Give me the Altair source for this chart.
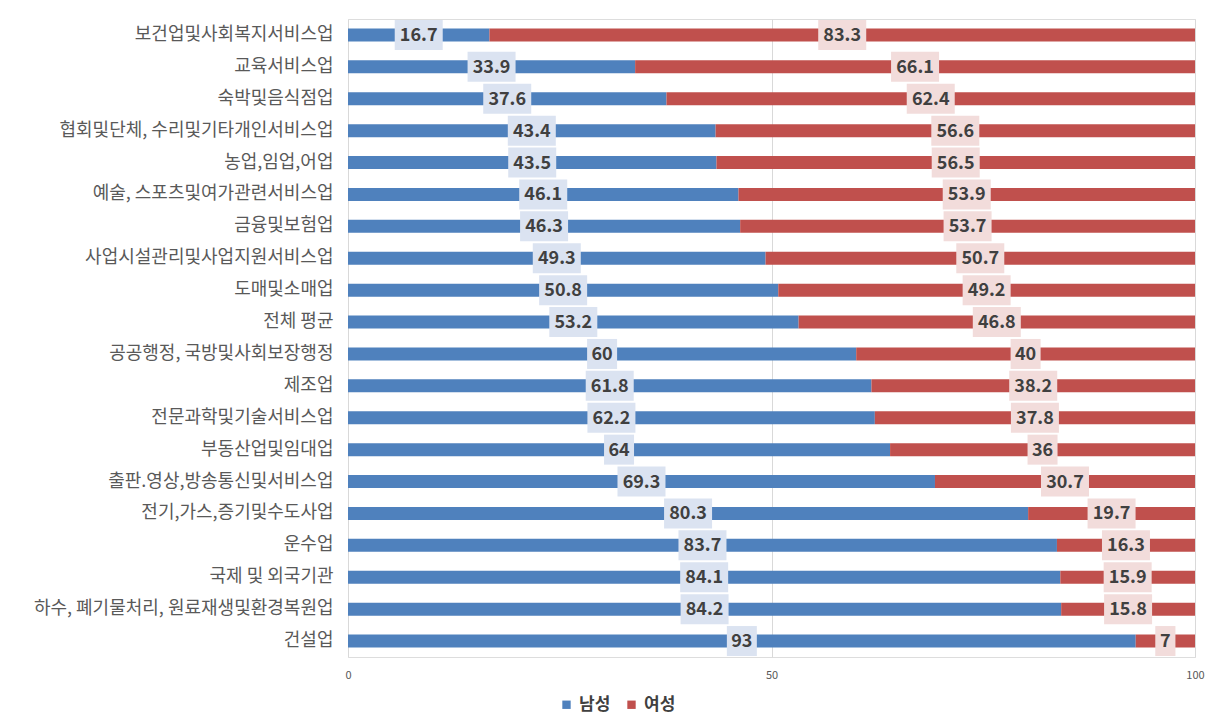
import altair as alt
import pandas as pd

categories = [
    "보건업및사회복지서비스업",
    "교육서비스업",
    "숙박및음식점업",
    "협회및단체, 수리및기타개인서비스업",
    "농업,임업,어업",
    "예술, 스포츠및여가관련서비스업",
    "금융및보험업",
    "사업시설관리및사업지원서비스업",
    "도매및소매업",
    "전체 평균",
    "공공행정, 국방및사회보장행정",
    "제조업",
    "전문과학및기술서비스업",
    "부동산업및임대업",
    "출판.영상,방송통신및서비스업",
    "전기,가스,증기및수도사업",
    "운수업",
    "국제 및 외국기관",
    "하수, 폐기물처리, 원료재생및환경복원업",
    "건설업",
]
male = [16.7, 33.9, 37.6, 43.4, 43.5, 46.1, 46.3, 49.3, 50.8, 53.2,
        60, 61.8, 62.2, 64, 69.3, 80.3, 83.7, 84.1, 84.2, 93]
female = [83.3, 66.1, 62.4, 56.6, 56.5, 53.9, 53.7, 50.7, 49.2, 46.8,
          40, 38.2, 37.8, 36, 30.7, 19.7, 16.3, 15.9, 15.8, 7]
series = ["남성", "여성"]
colors = ["#4f81bd", "#c0504d"]
box_colors = ["#dbe3f1", "#f2dcdb"]

rows = []
for i, c in enumerate(categories):
    m, f = male[i], female[i]
    for k, (g, v, start) in enumerate([(series[0], m, 0.0), (series[1], f, m)]):
        lab = f"{v:g}"
        rows.append({
            "category": c, "gender": g, "value": v, "order": k,
            "start": start, "end": start + v, "mid": start + v / 2,
            "label": lab, "len": str(len(lab)),
        })
df = pd.DataFrame(rows)

font = "Noto Sans CJK KR"

y_enc = alt.Y("category:N", sort=categories, title=None,
              scale=alt.Scale(paddingInner=0, paddingOuter=0),
              axis=alt.Axis(domain=False, ticks=False, labelPadding=15,
                            labelFontSize=18, labelColor="#595959",
                            labelFont=font, labelLimit=400))

bars = alt.Chart(df).mark_bar(size=13).encode(
    x=alt.X("start:Q", title=None,
            scale=alt.Scale(domain=[0, 100], nice=False),
            axis=alt.Axis(values=[0, 50, 100], domain=False, ticks=False,
                          grid=True, gridColor="#d9d9d9", labelFontSize=11,
                          labelColor="#595959", labelPadding=12,
                          labelFlush=False, labelFont=font)),
    x2="end:Q",
    y=y_enc,
    color=alt.Color("gender:N", scale=alt.Scale(domain=series, range=colors),
                    legend=alt.Legend(title=None, orient="none", direction="horizontal",
                                      legendX=210, legendY=677,
                                      symbolType="square", symbolSize=70,
                                      labelFontSize=17, labelColor="#404040",
                                      labelFont=font, labelFontWeight="bold",
                                      columnPadding=12, labelOffset=4)),
)

shape_paths = [
    "M-0.42,-0.625L0.42,-0.625L0.42,0.625L-0.42,0.625Z",
    "M-0.625,-0.625L0.625,-0.625L0.625,0.625L-0.625,0.625Z",
    "M-1,-0.625L1,-0.625L1,0.625L-1,0.625Z",
]

boxes = alt.Chart(df).mark_point(filled=True, opacity=1, strokeWidth=0, size=2304).encode(
    x=alt.X("mid:Q"),
    y=alt.Y("category:N", sort=categories),
    shape=alt.Shape("len:N", scale=alt.Scale(domain=["1", "2", "4"], range=shape_paths),
                    legend=None),
    fill=alt.Fill("gender:N", scale=alt.Scale(domain=series, range=box_colors),
                  legend=None),
)

texts = alt.Chart(df).mark_text(fontSize=18, fontWeight="bold", color="#404040",
                                font=font, baseline="middle", align="center", dy=1).encode(
    x=alt.X("mid:Q"),
    y=alt.Y("category:N", sort=categories),
    text="label:N",
)

chart = alt.layer(bars, boxes, texts).resolve_scale(fill="independent").properties(
    width=847, height=638,
    padding={"left": 340, "top": 11, "right": 16, "bottom": 60},
    autosize=alt.AutoSizeParams(type="none"),
).configure_view(stroke=None).configure(background="white")

chart.save("out.html", embed_options={"renderer": "svg", "actions": False})
